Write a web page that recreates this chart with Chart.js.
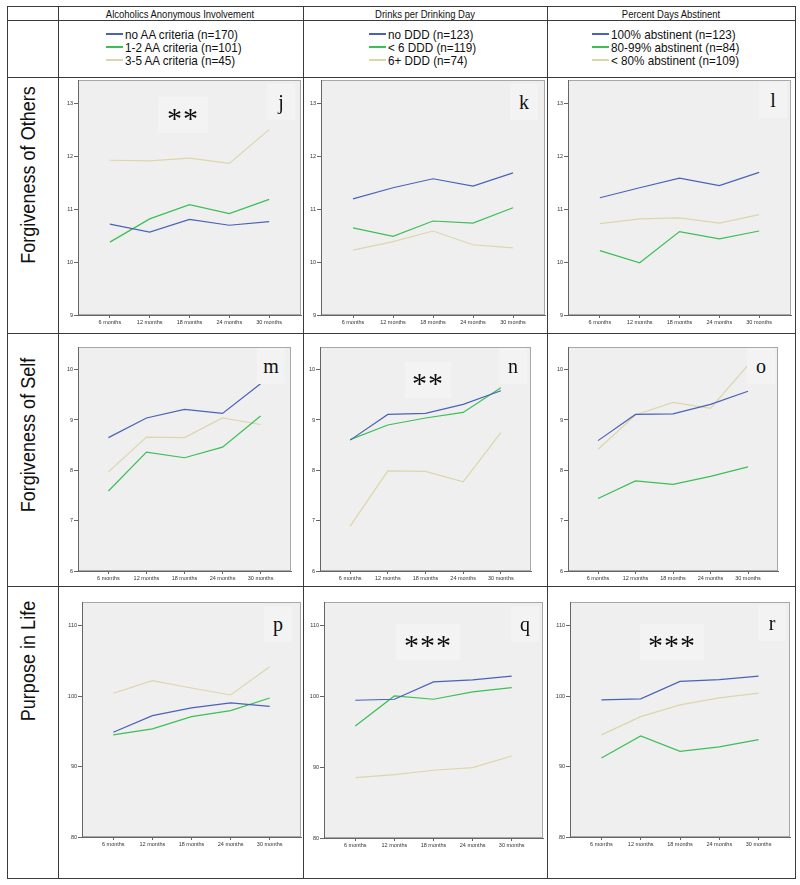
<!DOCTYPE html>
<html>
<head>
<meta charset="utf-8">
<script src="https://cdn.jsdelivr.net/npm/chart.js@4.4.1/dist/chart.umd.min.js"></script>
<style>
body { margin: 0; background: #fff; }
#page { position: relative; width: 800px; height: 885px; overflow: hidden;
  font-family: "Liberation Sans Narrow", "Arial Narrow", "Liberation Sans", Arial, sans-serif; color: #111; }
.hl { position: absolute; height: 1px; background: #3a3a3a; }
.vl { position: absolute; width: 1px; background: #3a3a3a; }
canvas { position: absolute; }
.txt { position: absolute; white-space: nowrap; }
.head { font-size: 11px; transform: translate(-50%, -50%) scaleX(0.86); }
.leg { font-size: 13px; transform-origin: 0 50%; transform: translateY(-50%) scaleX(0.9); }
.legline { position: absolute; height: 2px; width: 17px; transform: translateY(-50%); }
.rowlab { font-size: 21px; transform: translate(-50%, -50%) rotate(-90deg) scaleX(0.86); }
.box { position: absolute; background: #f3f3f3; }
.mark { position: absolute; font-family: "Liberation Serif", "Times New Roman", serif; transform: translate(-50%, -50%); color: #111; }
.stars { font-size: 30px; letter-spacing: 1px; }
.letter { font-size: 20px; }
</style>
</head>
<body>
<div id="page"></div>
<script>
// x categories
const months = ['6 months', '12 months', '18 months', '24 months', '30 months'];

// column headers and legends
const colTitles = ['Alcoholics Anonymous Involvement', 'Drinks per Drinking Day', 'Percent Days Abstinent'];
const aaLegend = ['no AA criteria (n=170)', '1-2 AA criteria (n=101)', '3-5 AA criteria (n=45)'];
const dddLegend = ['no DDD (n=123)', '< 6 DDD (n=119)', '6+ DDD (n=74)'];
const pdaLegend = ['100% abstinent (n=123)', '80-99% abstinent (n=84)', '< 80% abstinent (n=109)'];
const rowTitles = ['Forgiveness of Others', 'Forgiveness of Self', 'Purpose in Life'];

// y ticks per row
const othersTicks = [9, 10, 11, 12, 13];
const selfTicks = [6, 7, 8, 9, 10];
const purposeTicks = [80, 90, 100, 110];

// Forgiveness of Others
const othersNoAA = [10.72, 10.57, 10.81, 10.70, 10.77];
const othersAA12 = [10.38, 10.82, 11.09, 10.92, 11.19];
const othersAA35 = [11.93, 11.92, 11.97, 11.87, 12.51];
const othersNoDDD = [11.20, 11.41, 11.58, 11.44, 11.69];
const othersLt6DDD = [10.65, 10.49, 10.78, 10.74, 11.03];
const others6DDD = [10.23, 10.39, 10.59, 10.33, 10.27];
const othersAbst100 = [11.22, 11.41, 11.59, 11.45, 11.70];
const othersAbst80 = [10.22, 9.99, 10.58, 10.44, 10.59];
const othersAbstLt80 = [10.73, 10.82, 10.84, 10.74, 10.90];

// Forgiveness of Self
const selfNoAA = [8.65, 9.04, 9.21, 9.13, 9.72];
const selfAA12 = [7.59, 8.36, 8.25, 8.46, 9.08];
const selfAA35 = [7.97, 8.66, 8.65, 9.04, 8.91];
const selfNoDDD = [8.60, 9.11, 9.13, 9.31, 9.58];
const selfLt6DDD = [8.61, 8.90, 9.04, 9.15, 9.64];
const self6DDD = [6.89, 7.99, 7.98, 7.77, 8.75];
const selfAbst100 = [8.59, 9.11, 9.12, 9.31, 9.57];
const selfAbst80 = [7.44, 7.79, 7.72, 7.88, 8.07];
const selfAbstLt80 = [8.42, 9.10, 9.35, 9.23, 10.09];

// Purpose in Life
const purposeNoAA = [94.88, 97.24, 98.33, 99.04, 98.56];
const purposeAA12 = [94.50, 95.35, 97.10, 97.95, 99.74];
const purposeAA35 = [100.41, 102.20, 101.16, 100.17, 104.19];
const purposeNoDDD = [99.48, 99.62, 102.08, 102.36, 102.88];
const purposeLt6DDD = [95.85, 100.09, 99.62, 100.66, 101.27];
const purpose6DDD = [88.54, 88.96, 89.58, 89.95, 91.60];
const purposeAbst100 = [99.48, 99.62, 102.10, 102.34, 102.86];
const purposeAbst80 = [91.22, 94.34, 92.17, 92.79, 93.83];
const purposeAbstLt80 = [94.50, 97.10, 98.76, 99.76, 100.43];

const colors = ['#4a62b8', '#3cbf55', '#dcd6aa'];

const page = document.getElementById('page');

function add(cls, css, text) {
  let d = document.createElement('div');
  d.className = cls;
  Object.assign(d.style, css);
  if (text !== undefined) d.textContent = text;
  page.appendChild(d);
  return d;
}

// table grid
[6, 20, 77, 333, 586, 878].forEach(y => add('hl', {left: '7px', top: y + 'px', width: '789px'}));
[7, 58, 303, 547, 795].forEach(x => add('vl', {left: x + 'px', top: '6px', height: '873px'}));

// header row
[180, 425, 671].forEach((cx, i) => add('txt head', {left: cx + 'px', top: '14px'}, colTitles[i]));

// legend row
let legends = [aaLegend, dddLegend, pdaLegend];
let legX = [106, 369, 592];
let legY = [34, 47, 60];
legends.forEach((lg, c) => {
  lg.forEach((t, i) => {
    add('legline', {left: legX[c] + 'px', top: legY[i] + 'px', background: colors[i]});
    add('txt leg', {left: (legX[c] + 19) + 'px', top: legY[i] + 'px'}, t);
  });
});

// row labels
[[28, 175], [28, 435], [28, 661]].forEach((p, i) => add('txt rowlab', {left: p[0] + 'px', top: p[1] + 'px'}, rowTitles[i]));

const plotBg = {
  id: 'plotBg',
  beforeDraw(chart) {
    let a = chart.chartArea, ctx = chart.ctx;
    ctx.save();
    ctx.fillStyle = '#efefef';
    ctx.fillRect(a.left, a.top, a.right - a.left, a.bottom - a.top);
    ctx.strokeStyle = '#a8a8a8';
    ctx.lineWidth = 1;
    ctx.strokeRect(a.left + 0.5, a.top + 0.5, a.right - a.left - 1, a.bottom - a.top - 1);
    ctx.restore();
  }
};

function makePanel(p) {
  let L = p.plot[0] - 24, T = p.plot[1] - 4;
  let W = p.plot[2] - L + 3, H = p.plot[3] - T + 18;
  let cv = document.createElement('canvas');
  cv.width = W; cv.height = H;
  cv.style.left = L + 'px'; cv.style.top = T + 'px';
  cv.style.width = W + 'px'; cv.style.height = H + 'px';
  page.appendChild(cv);

  let yMin = p.ticks[0];
  let yMax = yMin + (p.ticks[p.ticks.length - 1] - yMin) * 1.1125;
  let tickFont = {size: 5.5, family: 'Liberation Sans'};

  let datasets = [];
  for (let d = 0; d < p.series.length; d++) {
    datasets.push({
      label: p.legend[d],
      data: p.series[d].map((v, k) => ({x: k, y: v})),
      borderColor: colors[d], borderWidth: 1.2,
      pointRadius: 0, fill: false, tension: 0
    });
  }

  new Chart(cv, {
    type: 'line',
    data: {datasets},
    options: {
      responsive: false, animation: false,
      layout: {padding: {left: 0, top: 4, right: 3, bottom: 0}},
      plugins: {legend: {display: false}, tooltip: {enabled: false}},
      scales: {
        x: {
          type: 'linear', min: -0.8, max: 4.8,
          afterBuildTicks: s => { s.ticks = months.map((m, k) => ({value: k})); },
          afterFit: s => { s.height = 18; s.paddingLeft = 0; s.paddingRight = 0; },
          ticks: {callback: v => months[v], font: tickFont, color: '#333', maxRotation: 0, autoSkip: false, padding: 1},
          grid: {drawOnChartArea: false, tickLength: 3, color: '#666'},
          border: {color: '#666'}
        },
        y: {
          min: yMin, max: yMax,
          afterBuildTicks: s => { s.ticks = p.ticks.map(v => ({value: v})); },
          afterFit: s => { s.width = 24; s.paddingTop = 0; s.paddingBottom = 0; },
          ticks: {font: tickFont, color: '#333', padding: 1},
          grid: {drawOnChartArea: false, tickLength: 4, color: '#666'},
          border: {color: '#666'}
        }
      }
    },
    plugins: [plotBg]
  });

  // panel letter and significance stars
  add('box', {left: (p.letter[0] - 14) + 'px', top: (p.letter[1] - 18) + 'px', width: '28px', height: '36px'});
  if (p.stars) {
    let s = p.stars;
    add('box', {left: (s[0] - s[2] / 2) + 'px', top: (s[1] - 17) + 'px', width: s[2] + 'px', height: '36px'});
    add('mark stars', {left: s[0] + 'px', top: (s[1] + 4) + 'px'}, s[3]);
  }
  add('mark letter', {left: p.letter[0] + 'px', top: p.letter[1] + 'px'}, p.id);
}

const panels = [
  {id: 'j', plot: [78, 80, 301, 315], ticks: othersTicks, legend: aaLegend, series: [othersNoAA, othersAA12, othersAA35], letter: [281, 102], stars: [183, 114, 50, '**']},
  {id: 'k', plot: [321, 80, 545, 315], ticks: othersTicks, legend: dddLegend, series: [othersNoDDD, othersLt6DDD, others6DDD], letter: [524, 102]},
  {id: 'l', plot: [568, 80, 791, 315], ticks: othersTicks, legend: pdaLegend, series: [othersAbst100, othersAbst80, othersAbstLt80], letter: [773, 100]},
  {id: 'm', plot: [78, 347, 291, 571], ticks: selfTicks, legend: aaLegend, series: [selfNoAA, selfAA12, selfAA35], letter: [271, 366]},
  {id: 'n', plot: [320, 347, 531, 571], ticks: selfTicks, legend: dddLegend, series: [selfNoDDD, selfLt6DDD, self6DDD], letter: [513, 366], stars: [428, 379, 46, '**']},
  {id: 'o', plot: [568, 347, 778, 571], ticks: selfTicks, legend: pdaLegend, series: [selfAbst100, selfAbst80, selfAbstLt80], letter: [761, 366]},
  {id: 'p', plot: [82, 602, 301, 837], ticks: purposeTicks, legend: aaLegend, series: [purposeNoAA, purposeAA12, purposeAA35], letter: [278, 624]},
  {id: 'q', plot: [324, 602, 543, 838], ticks: purposeTicks, legend: dddLegend, series: [purposeNoDDD, purposeLt6DDD, purpose6DDD], letter: [525, 624], stars: [428, 641, 64, '***']},
  {id: 'r', plot: [570, 602, 790, 837], ticks: purposeTicks, legend: pdaLegend, series: [purposeAbst100, purposeAbst80, purposeAbstLt80], letter: [772, 623], stars: [672, 641, 64, '***']}
];

panels.forEach(makePanel);
</script>
</body>
</html>
